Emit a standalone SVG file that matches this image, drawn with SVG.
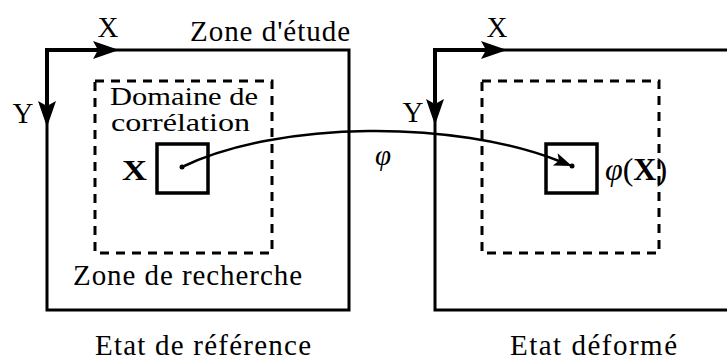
<svg xmlns="http://www.w3.org/2000/svg" width="727" height="361" viewBox="0 0 727 361">
<style>
  .t { font-family: "Liberation Serif", "Times New Roman", serif; font-size: 29px; fill: #000; }
  .s { font-size: 25px; }
  .b { font-weight: bold; }
  .i { font-style: italic; }
  .frame { fill: none; stroke: #000; stroke-width: 3; }
  .dash { fill: none; stroke: #000; stroke-width: 3; stroke-dasharray: 9 7; }
  .axis { fill: none; stroke: #000; stroke-width: 4; }
  .win { fill: none; stroke: #000; stroke-width: 3.5; }
  .conn { fill: none; stroke: #000; stroke-width: 2.5; }
</style>
<defs>
  <path id="bighead" d="M0,0 L-26,-9 L-21,0 L-26,9 Z" fill="#000"/>
  <path id="smallhead" d="M0,0 L-18,-6.5 L-14,0 L-18,6.5 Z" fill="#000"/>
</defs>
<rect width="727" height="361" fill="#fff"/>

<g id="reference-state">
  <rect class="frame" x="47" y="50" width="302" height="260"/>
  <text class="t" x="190" y="41" textLength="160" lengthAdjust="spacing">Zone d'étude</text>
  <g id="ref-axes">
    <path class="axis" d="M47,105 V50 H98"/>
    <use href="#bighead" transform="translate(119,50)"/>
    <use href="#bighead" transform="translate(47,127) rotate(90)"/>
    <text class="t" x="108" y="37" text-anchor="middle">X</text>
    <text class="t" x="23" y="123" text-anchor="middle">Y</text>
  </g>
  <g id="ref-search">
    <rect class="dash" x="95" y="81" width="177" height="172"/>
    <text class="t" x="73" y="285" textLength="229" lengthAdjust="spacing">Zone de recherche</text>
  </g>
  <g id="ref-correlation">
    <rect class="win" x="157" y="144" width="51" height="49"/>
    <circle cx="182" cy="167" r="2.5" fill="#000"/>
    <text class="t s" x="110" y="105" textLength="148" lengthAdjust="spacingAndGlyphs">Domaine de</text>
    <text class="t s" x="111" y="131" textLength="139" lengthAdjust="spacingAndGlyphs">corrélation</text>
    <text class="t b" x="122" y="180" textLength="25" lengthAdjust="spacingAndGlyphs">X</text>
  </g>
  <text class="t" x="95" y="355" textLength="216" lengthAdjust="spacing">Etat de référence</text>
</g>

<g id="deformed-state">
  <rect class="frame" x="435" y="50" width="400" height="260"/>
  <g id="def-axes">
    <path class="axis" d="M435,103 V50 H486"/>
    <use href="#bighead" transform="translate(507,50)"/>
    <use href="#bighead" transform="translate(435,125) rotate(90)"/>
    <text class="t" x="497" y="37" text-anchor="middle">X</text>
    <text class="t" x="413" y="122" text-anchor="middle">Y</text>
  </g>
  <g id="def-search">
    <rect class="dash" x="482" y="81" width="177" height="172"/>
  </g>
  <g id="def-correlation">
    <rect class="win" x="546" y="144" width="51" height="49"/>
    <circle cx="572" cy="166" r="2.5" fill="#000"/>
    <text class="t" x="605" y="180" style="font-size:32px"><tspan class="i">φ</tspan>(<tspan class="b">X</tspan>)</text>
  </g>
  <text class="t" x="510" y="355" textLength="167" lengthAdjust="spacing">Etat déformé</text>
</g>

<g id="connectors">
  <path class="conn" d="M182,167 C280,120 455,120 559,161"/>
  <use href="#smallhead" transform="translate(572,166) rotate(21.5)"/>
  <text class="t i" x="383" y="165" text-anchor="middle">φ</text>
</g>
</svg>
